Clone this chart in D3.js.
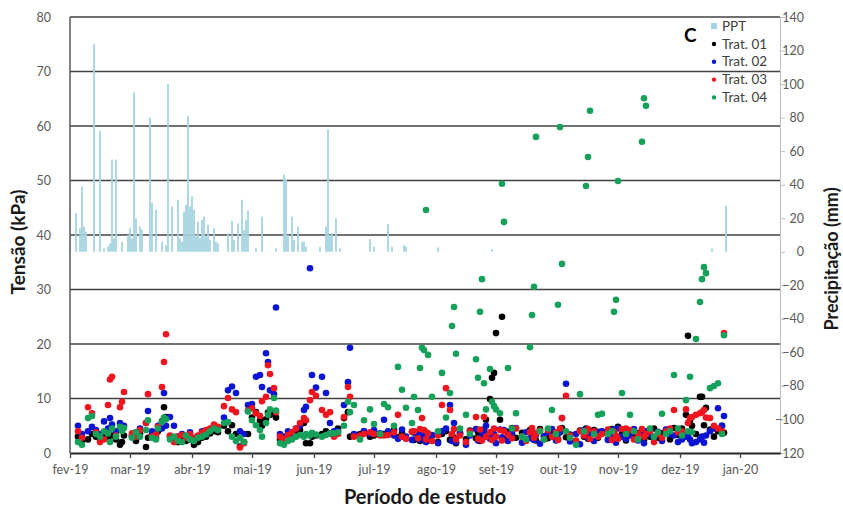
<!DOCTYPE html>
<html>
<head>
<meta charset="utf-8">
<script src="https://cdn.jsdelivr.net/npm/d3@7/dist/d3.min.js"></script>
<style>
  html, body { margin: 0; padding: 0; background: #fff; }
  svg { display: block; font-family: Lato, "Open Sans", sans-serif; }
</style>
</head>
<body>
<svg id="chart" width="843" height="515"></svg>
<script>
// ---- Precipitação diária (mm), eixo secundário ----
const pptDates = [
  "2019-02-01","2019-02-04","2019-02-06","2019-02-07","2019-02-08","2019-02-09","2019-02-13","2019-02-16",
  "2019-02-18","2019-02-20","2019-02-21","2019-02-22","2019-02-23","2019-02-24","2019-02-27",
  "2019-03-02","2019-03-03","2019-03-04","2019-03-05","2019-03-06","2019-03-08","2019-03-09","2019-03-13",
  "2019-03-14","2019-03-16","2019-03-19","2019-03-21","2019-03-22","2019-03-24","2019-03-27","2019-03-28",
  "2019-03-29","2019-03-30","2019-03-31","2019-04-01","2019-04-02","2019-04-03","2019-04-04","2019-04-05",
  "2019-04-06","2019-04-07","2019-04-08","2019-04-09","2019-04-10","2019-04-11","2019-04-12","2019-04-14",
  "2019-04-15","2019-04-16","2019-04-21","2019-04-23","2019-04-24","2019-04-26","2019-04-28","2019-04-29",
  "2019-04-30","2019-05-01","2019-05-05","2019-05-08","2019-05-15","2019-05-19","2019-05-20","2019-05-21",
  "2019-05-23","2019-05-24","2019-05-26","2019-05-28","2019-05-29","2019-05-30","2019-06-06","2019-06-09",
  "2019-06-10","2019-06-11","2019-06-12","2019-06-14","2019-06-16","2019-07-01","2019-07-03","2019-07-10",
  "2019-07-12","2019-07-18","2019-07-19","2019-08-04","2019-08-31","2019-12-19","2019-12-26"
];
const pptValues = [
  27, 23, 14, 39, 15, 12, 124, 72,
  2, 3, 5, 55, 8, 55, 6,
  10, 14, 8, 95, 20, 15, 13, 80,
  29, 25, 6, 4, 100, 27, 31, 8,
  6, 24, 28, 81, 27, 33, 25, 10,
  18, 8, 19, 21, 9, 16, 7, 14,
  6, 5, 11, 18.5, 7, 17, 31, 13,
  19, 24.6, 2, 21, 2, 46, 43, 10,
  21, 7, 15, 6, 6, 3, 3, 15,
  73, 10, 11, 20, 2, 7.5, 3, 16.5,
  3, 4, 3, 2.5, 1.5, 2, 27.5
];

// ---- Tensão de água no solo (kPa) por tratamento ----
const datas = [
  "2019-02-05","2019-02-07","2019-02-10","2019-02-12","2019-02-14","2019-02-16","2019-02-18","2019-02-20",
  "2019-02-21","2019-02-22","2019-02-24","2019-02-26","2019-02-27","2019-02-28","2019-03-04","2019-03-06",
  "2019-03-08","2019-03-11","2019-03-12","2019-03-14","2019-03-16","2019-03-17","2019-03-19","2019-03-20",
  "2019-03-21","2019-03-23","2019-03-25","2019-03-27","2019-03-29","2019-03-31","2019-04-02","2019-04-04",
  "2019-04-06","2019-04-08","2019-04-10","2019-04-12","2019-04-14","2019-04-16","2019-04-19","2019-04-21",
  "2019-04-23","2019-04-25","2019-04-27","2019-04-29","2019-05-01","2019-05-03","2019-05-05","2019-05-07",
  "2019-05-08","2019-05-10","2019-05-11","2019-05-12","2019-05-14","2019-05-15","2019-05-17","2019-05-19",
  "2019-05-21","2019-05-23","2019-05-25","2019-05-27","2019-05-29","2019-05-30","2019-06-01","2019-06-02",
  "2019-06-04","2019-06-07","2019-06-09","2019-06-11","2019-06-13","2019-06-15","2019-06-18","2019-06-20",
  "2019-06-21","2019-06-23","2019-06-26","2019-06-28","2019-07-01","2019-07-03","2019-07-06","2019-07-08",
  "2019-07-10","2019-07-13","2019-07-15","2019-07-17","2019-07-19","2019-07-22","2019-07-23","2019-07-25",
  "2019-07-26","2019-07-27","2019-07-28","2019-07-29","2019-07-30","2019-08-01","2019-08-04","2019-08-06",
  "2019-08-08","2019-08-10","2019-08-11","2019-08-12","2019-08-13","2019-08-15","2019-08-18","2019-08-20",
  "2019-08-23","2019-08-24","2019-08-25","2019-08-26","2019-08-27","2019-08-28","2019-08-30","2019-08-31",
  "2019-09-01","2019-09-02","2019-09-04","2019-09-05","2019-09-06","2019-09-08","2019-09-10","2019-09-12",
  "2019-09-15","2019-09-17","2019-09-19","2019-09-20","2019-09-21","2019-09-22","2019-09-24","2019-09-26",
  "2019-09-28","2019-09-30","2019-10-02","2019-10-03","2019-10-04","2019-10-05","2019-10-07","2019-10-09",
  "2019-10-12","2019-10-14","2019-10-16","2019-10-17","2019-10-18","2019-10-19","2019-10-21","2019-10-23",
  "2019-10-25","2019-10-28","2019-10-30","2019-10-31","2019-11-01","2019-11-02","2019-11-04","2019-11-06",
  "2019-11-08","2019-11-10","2019-11-12","2019-11-14","2019-11-15","2019-11-16","2019-11-18","2019-11-20",
  "2019-11-22","2019-11-24","2019-11-26","2019-11-28","2019-11-30","2019-12-02","2019-12-04","2019-12-06",
  "2019-12-07","2019-12-08","2019-12-09","2019-12-11","2019-12-13","2019-12-14","2019-12-15","2019-12-16",
  "2019-12-18","2019-12-20","2019-12-22","2019-12-24","2019-12-25"
];
const trat01 = [
  3.0,2.2,2.5,3.5,3.0,2.5,3.2,3.0, 4.5,3.2,2.5,1.5,2.0,3.2,3.0,2.2,
  3.5,1.1,2.8,3.5,2.8,4.0,5.8,8.4, 6.6,3.0,2.6,2.0,2.5,2.2,2.5,1.5,
  2.0,2.8,3.0,3.6,4.0,3.8,5.0,4.0, 5.1,3.5,1.2,2.0,3.5,6.5,7.5,6.0,
  5.0,6.2,7.4,7.0,7.5,6.5,2.5,2.0, 2.5,3.0,3.5,4.2,5.5,1.8,1.8,3.0,
  3.2,3.5,4.0,3.6,3.3,4.5,6.4,7.5, 3.0,3.3,3.5,4.0,3.0,3.2,3.5,3.5,
  3.4,4.2,2.9,3.6,2.7,3.9,2.4,3.1, 2.2,3.4,2.6,3.8,2.3,3.2,2.0,3.5,
  4.0,2.4,3.3,2.8,1.8,3.6,2.5,4.1, 2.7,3.8,2.2,3.4,4.3,6.1,9.9,13.8,
  14.7,22.0,6.1,25.0,2.6,3.9,4.6,2.8, 3.7,2.4,4.2,2.9,3.5,2.3,4.4,3.1,
  2.7,4.0,3.3,2.5,3.8,4.6,2.9,3.4, 2.2,4.1,3.0,4.5,2.6,3.6,4.2,2.8,
  3.9,2.5,4.4,3.1,2.7,4.8,3.5,2.3, 4.0,2.9,3.6,4.3,2.4,3.8,3.0,4.5,
  2.8,3.6,4.2,2.5,4.6,3.3,4.5,7.0, 21.5,6.0,5.0,3.5,10.3,10.3,5.1,8.3,
  4.3,3.0,4.0,5.0,3.7
];
const trat02 = [
  5.0,3.5,4.0,4.8,4.2,3.5,5.8,4.5, 6.4,5.2,4.0,5.5,4.2,5.0,3.2,3.8,
  4.5,5.5,7.7,4.0,3.5,5.0,4.5,11.0, 5.0,6.6,5.0,3.0,3.5,3.0,3.8,2.6,
  3.0,4.0,3.5,4.3,5.0,4.6,6.5,11.5, 12.2,11.0,4.0,3.5,8.8,9.0,14.0,14.3,
  12.1,18.3,16.7,11.5,10.8,26.7,3.5,3.0, 4.0,3.5,4.5,5.0,7.9,8.5,33.9,14.3,
  12.0,14.0,11.0,5.5,4.0,4.0,8.8,13.0, 19.3,3.5,3.0,4.0,3.5,4.2,3.6,6.1,
  4.0,3.2,2.6,4.3,3.0,2.4,3.7,3.9, 2.5,3.1,3.6,2.0,2.4,3.3,1.8,4.0,
  4.5,8.8,2.2,5.5,2.0,3.6,1.5,3.2, 4.4,2.3,2.8,3.9,4.0,5.0,2.6,3.2,
  3.5,1.8,4.3,2.9,4.2,2.2,3.6,4.6, 1.9,3.8,2.7,4.1,2.4,3.3,1.7,3.0,
  3.8,4.4,2.3,3.5,4.0,6.4,12.7,2.1, 3.5,1.6,4.2,4.0,2.8,3.5,2.2,3.9,
  4.0,2.4,3.5,4.3,1.9,4.5,3.0,2.6, 3.2,4.4,2.3,3.6,1.8,4.0,3.5,2.7,
  3.9,2.2,4.3,3.5,3.2,2.0,2.5,3.0, 3.5,2.5,1.8,2.0,2.5,3.0,1.9,3.2,
  4.0,4.5,8.2,5.0,6.8
];
const trat03 = [
  4.0,2.8,8.4,7.3,3.8,2.0,2.5,8.8, 13.5,14.0,3.2,8.4,9.4,11.2,3.6,3.0,
  4.2,5.5,10.8,3.0,3.4,4.8,12.1,16.7, 21.8,3.2,2.0,3.0,3.3,2.8,3.5,2.8,
  3.2,3.8,4.2,4.5,5.2,4.8,8.6,10.1, 8.0,7.5,1.0,1.8,7.8,8.2,7.3,6.8,
  9.5,10.3,16.1,14.5,11.9,7.5,3.0,2.5, 3.3,3.8,4.5,5.5,6.4,6.0,9.7,11.2,
  10.5,7.9,7.0,7.5,3.0,3.5,6.6,12.1, 10.3,3.0,3.2,3.5,3.8,3.5,3.2,3.2,
  3.3,3.8,7.0,3.0,2.6,3.9,4.0,2.7, 4.4,6.4,4.2,2.5,3.6,2.2,3.2,8.8,
  11.9,7.9,3.5,4.4,2.5,3.2,2.0,4.0, 6.6,2.6,4.3,2.3,6.6,3.0,3.8,2.4,
  4.5,3.0,4.2,2.3,4.0,3.4,2.7,4.5, 3.0,2.2,3.8,4.6,2.8,3.6,4.1,2.5,
  4.2,3.0,3.8,2.4,4.5,6.4,10.5,3.2, 2.3,4.0,3.2,3.8,4.4,2.6,4.0,3.0,
  3.5,4.3,2.4,3.9,3.2,2.6,4.4,4.5, 4.2,2.5,3.5,4.4,3.0,3.5,4.0,2.0,
  3.5,2.8,4.0,4.5,7.9,3.8,4.0,8.0, 5.5,6.4,6.6,7.0,7.3,7.5,7.9,6.5,
  6.4,5.0,4.5,4.0,22.0
];
const trat04 = [
  2.0,1.5,6.4,6.8,3.5,3.0,4.0,3.6, 2.0,4.5,3.0,4.8,4.0,4.6,2.8,3.8,
  3.0,4.2,6.0,2.8,2.5,4.5,5.7,6.5, 6.2,2.5,3.0,2.2,2.0,3.2,2.5,2.2,
  2.8,3.0,3.4,4.0,4.5,4.2,5.5,5.7, 3.0,2.2,2.8,2.0,7.6,6.0,5.1,4.2,
  3.0,5.5,7.0,8.0,10.1,7.8,1.8,1.5, 2.2,2.5,3.0,3.3,3.0,3.5,3.2,3.7,
  3.4,3.0,3.3,3.6,3.6,3.8,5.0,9.4, 7.5,8.8,2.5,6.0,8.0,5.3,3.5,9.0,
  8.4,5.0,15.8,11.6,8.3,5.5,10.3,7.9, 15.6,19.3,18.9,44.6,18.0,10.3,4.0,14.7,
  6.5,11.0,23.3,26.8,18.2,4.5,7.0,3.5, 17.2,13.8,25.9,31.9,12.8,8.0,15.4,9.4,
  8.6,8.0,7.3,49.4,42.4,15.6,4.5,7.3, 3.0,2.5,19.4,25.3,30.5,58.0,4.0,2.5,
  4.5,7.9,3.5,27.2,59.8,34.7,4.0,2.8, 1.5,10.8,4.0,49.0,54.3,62.8,3.5,7.0,
  7.2,3.5,4.0,25.9,28.1,49.9,11.0,3.5, 7.0,4.0,2.5,57.1,65.1,63.7,4.5,3.0,
  3.8,7.2,3.5,4.0,14.3,4.5,3.2,9.7, 4.0,14.0,3.8,20.9,27.7,31.9,34.1,33.0,
  11.9,12.3,12.8,3.5,21.6
];

// ---- Eixos ----
const tickDates = ["2019-02-01","2019-03-03","2019-04-03","2019-05-03","2019-06-03","2019-07-03",
                   "2019-08-03","2019-09-02","2019-10-03","2019-11-02","2019-12-03","2020-01-02"];
const tickLabels = ["fev-19","mar-19","abr-19","mai-19","jun-19","jul-19",
                    "ago-19","set-19","out-19","nov-19","dez-19","jan-20"];
const leftTicks = [0, 10, 20, 30, 40, 50, 60, 70, 80];
const rightTicks = [-120, -100, -80, -60, -40, -20, 0, 20, 40, 60, 80, 100, 120, 140];

const series = [
  { name: "Trat. 01", values: trat01, color: "#000000" },
  { name: "Trat. 02", values: trat02, color: "#0a14d2" },
  { name: "Trat. 03", values: trat03, color: "#f0141e" },
  { name: "Trat. 04", values: trat04, color: "#17a05a" }
];
const pptColor = "#a3d3e0";

const parse = d3.timeParse("%Y-%m-%d");
const svg = d3.select("#chart");
const plot = { left: 70, right: 780, top: 17, bottom: 453 };

const x = d3.scaleTime()
  .domain([parse("2019-02-01"), parse("2020-01-22")])
  .range([plot.left, plot.right]);
const y = d3.scaleLinear().domain([0, 80]).range([plot.bottom, plot.top]);
const yR = d3.scaleLinear().domain([-120, 140]).range([plot.bottom, plot.top]);

svg.append("defs").append("clipPath").attr("id", "clip")
  .append("rect")
  .attr("x", plot.left).attr("y", plot.top - 4)
  .attr("width", plot.right - plot.left).attr("height", plot.bottom - plot.top + 4);

// linhas de grade horizontais
svg.append("g")
  .selectAll("line")
  .data(leftTicks.filter(v => v > 0))
  .join("line")
  .attr("x1", plot.left).attr("x2", plot.right)
  .attr("y1", d => y(d)).attr("y2", d => y(d))
  .attr("stroke", "#404040").attr("stroke-width", 1.4);

// barras de precipitação
const ppt = pptDates.map((d, i) => ({ date: parse(d), v: pptValues[i] }));
svg.append("g").attr("clip-path", "url(#clip)")
  .selectAll("rect")
  .data(ppt)
  .join("rect")
  .attr("x", d => x(d.date) - 0.9)
  .attr("width", 1.8)
  .attr("y", d => yR(d.v))
  .attr("height", d => yR(0) - yR(d.v))
  .attr("fill", pptColor);

// pontos de tensão
const dates = datas.map(parse);
series.forEach(s => {
  svg.append("g").attr("clip-path", "url(#clip)")
    .selectAll("circle")
    .data(s.values.map((v, i) => ({ date: dates[i], v })).filter(d => d.v != null))
    .join("circle")
    .attr("cx", d => x(d.date))
    .attr("cy", d => y(d.v))
    .attr("r", 3.3)
    .attr("fill", s.color);
});

// eixo esquerdo
svg.append("line")
  .attr("x1", plot.left).attr("x2", plot.left)
  .attr("y1", plot.top).attr("y2", plot.bottom)
  .attr("stroke", "#595959").attr("stroke-width", 1.5);
svg.append("g")
  .selectAll("text")
  .data(leftTicks)
  .join("text")
  .attr("x", 51).attr("y", d => y(d) + 4.5)
  .attr("text-anchor", "end")
  .attr("font-size", 12.5).attr("fill", "#595959")
  .text(d => d);

// eixo direito
const gR = svg.append("g")
  .attr("transform", `translate(${plot.right},0)`)
  .call(d3.axisRight(yR).tickValues(rightTicks).tickSize(5).tickPadding(4));
gR.select(".domain").attr("stroke", "#bfbfbf");
gR.selectAll(".tick line").attr("stroke", "#bfbfbf");
gR.selectAll(".tick text")
  .attr("x", 24).attr("text-anchor", "end")
  .attr("font-family", "Lato, 'Open Sans', sans-serif")
  .attr("font-size", 12.5).attr("fill", "#595959");

// eixo inferior
const gX = svg.append("g")
  .attr("transform", `translate(0,${plot.bottom})`)
  .call(d3.axisBottom(x)
    .tickValues(tickDates.map(parse))
    .tickFormat((d, i) => tickLabels[i])
    .tickSize(5).tickPadding(7)
    .tickSizeOuter(0));
gX.select(".domain").attr("stroke", "#262626").attr("stroke-width", 2.2);
gX.selectAll(".tick line").attr("stroke", "#404040").attr("stroke-width", 1.3);
gX.selectAll(".tick text")
  .attr("font-family", "Lato, 'Open Sans', sans-serif")
  .attr("font-size", 12.5).attr("fill", "#595959");

// títulos dos eixos
svg.append("text")
  .attr("transform", "translate(25,242) rotate(-90)")
  .attr("text-anchor", "middle")
  .attr("font-size", 19).attr("font-weight", "bold").attr("fill", "#1a1a1a")
  .text("Tensão (kPa)");
svg.append("text")
  .attr("transform", "translate(838,259) rotate(-90)")
  .attr("text-anchor", "middle")
  .attr("font-size", 18).attr("font-weight", "bold").attr("fill", "#1a1a1a")
  .text("Precipitação (mm)");
svg.append("text")
  .attr("x", 425).attr("y", 504)
  .attr("text-anchor", "middle")
  .attr("font-size", 20).attr("font-weight", "bold").attr("fill", "#1a1a1a")
  .text("Período de estudo");

// rótulo do painel
svg.append("text")
  .attr("x", 684).attr("y", 42)
  .attr("font-size", 19).attr("font-weight", "bold").attr("fill", "#000")
  .text("C");

// legenda
const legend = svg.append("g").attr("transform", "translate(714,26)");
legend.append("rect").attr("x", -3).attr("y", -3).attr("width", 6).attr("height", 6).attr("fill", pptColor);
legend.append("text").attr("x", 8).attr("y", 4.5).attr("font-size", 13.5).attr("fill", "#404040").text("PPT");
series.forEach((s, i) => {
  const yy = 18 + i * 17.8;
  legend.append("circle").attr("cx", 0).attr("cy", yy).attr("r", 2.2).attr("fill", s.color);
  legend.append("text").attr("x", 8).attr("y", yy + 4.5).attr("font-size", 13.5).attr("fill", "#404040").text(s.name);
});
</script>
</body>
</html>
